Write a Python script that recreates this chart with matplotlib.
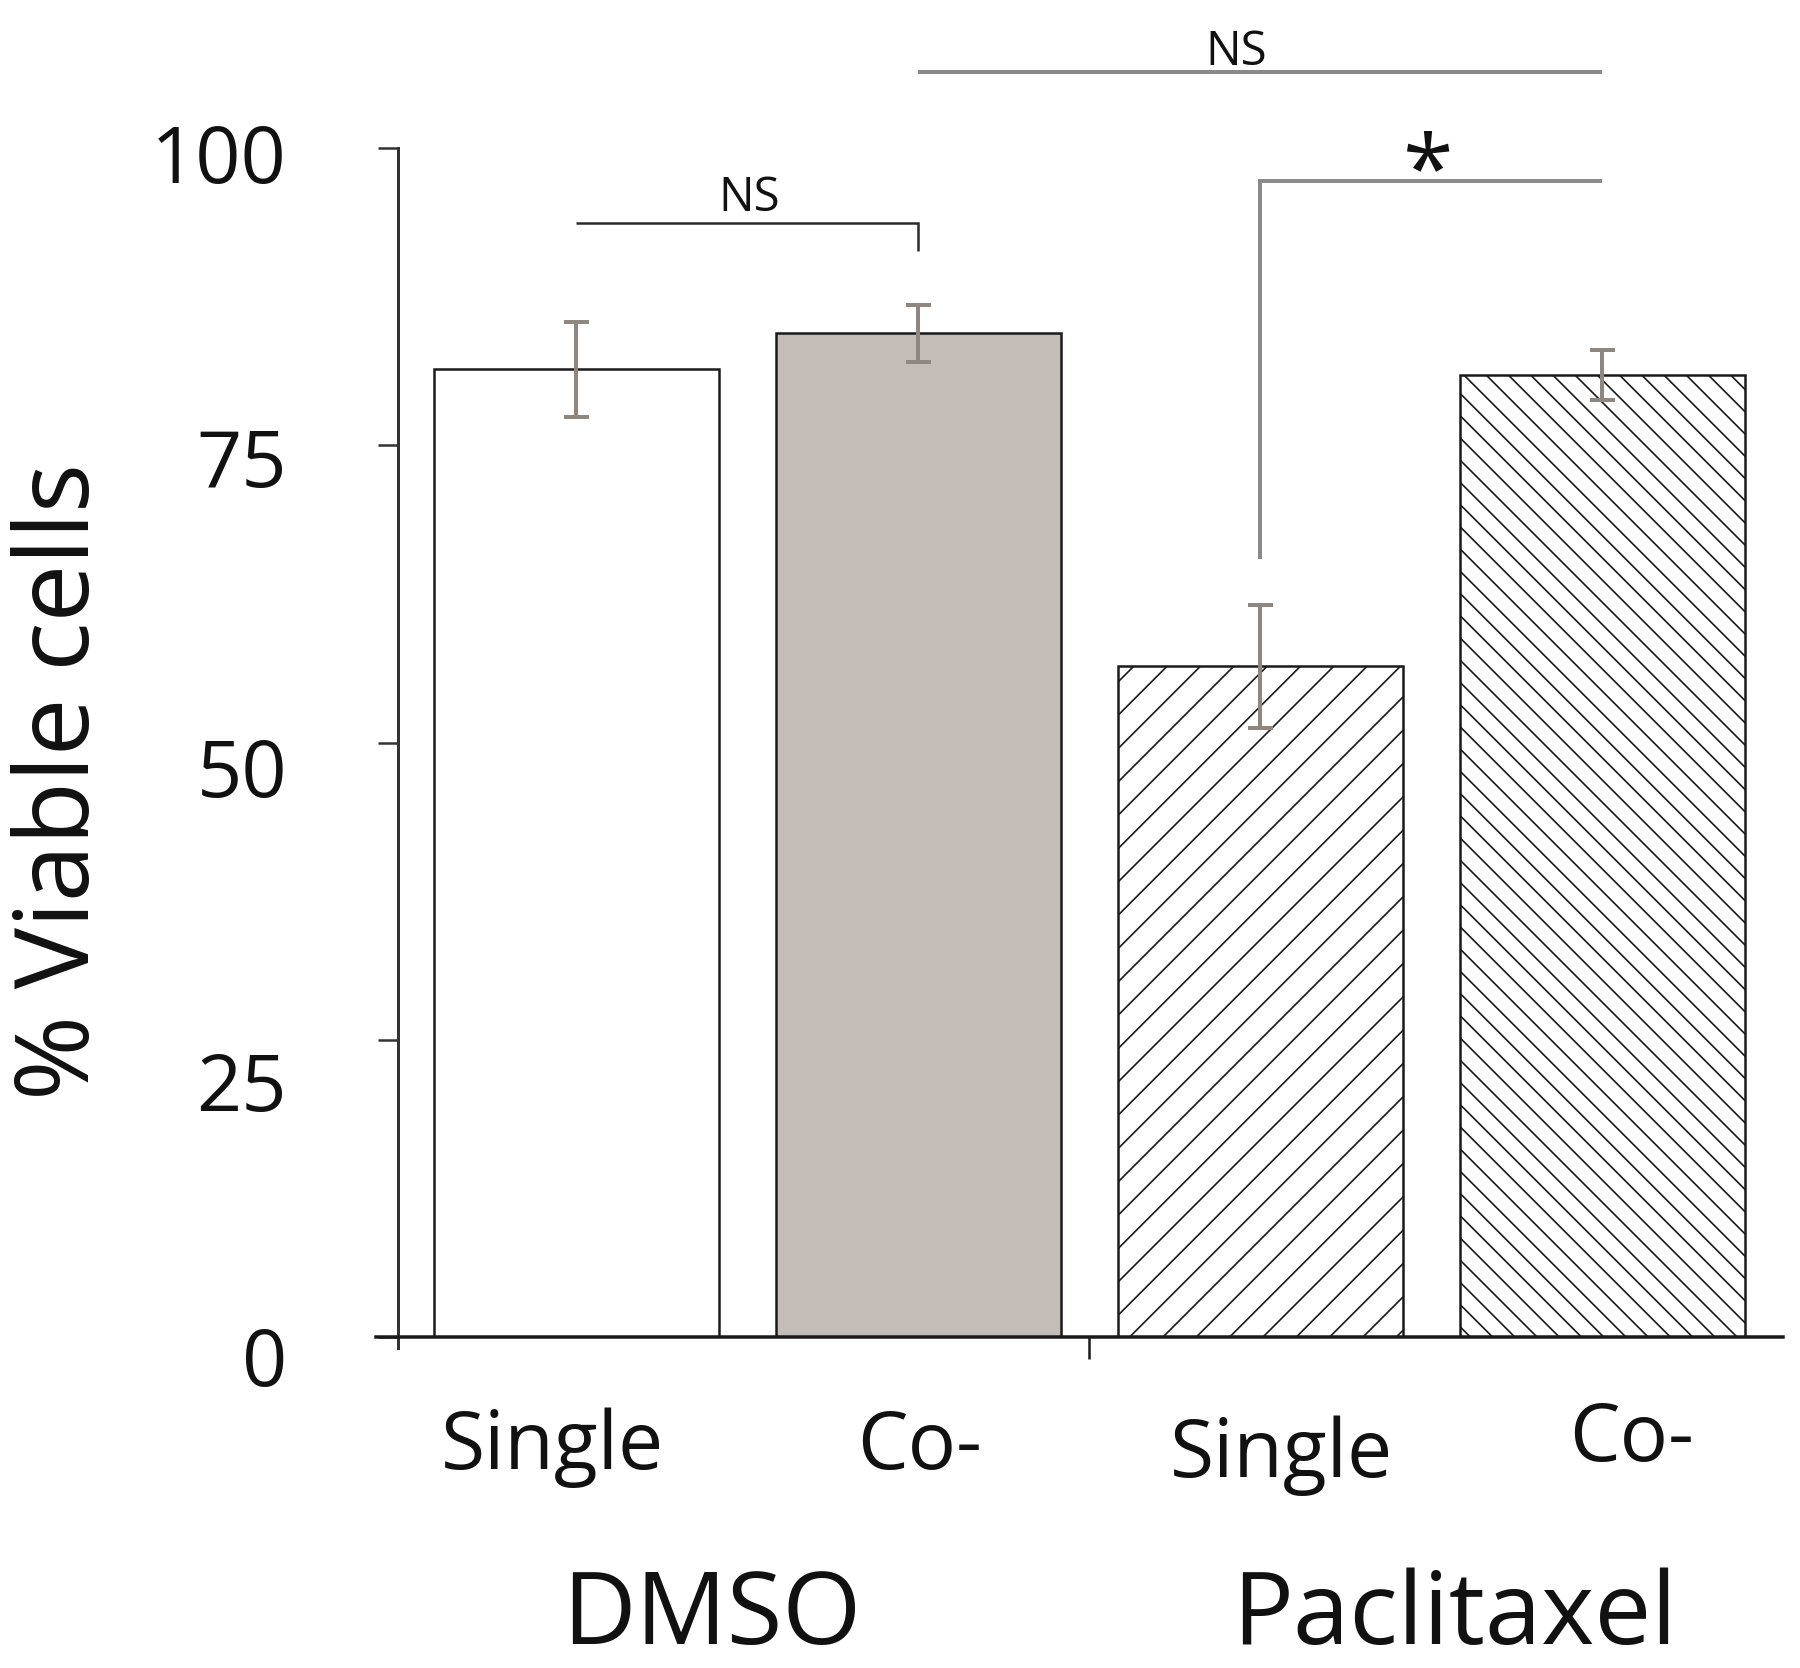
import matplotlib
matplotlib.use('Agg')
import matplotlib.pyplot as plt
import matplotlib.transforms as mtransforms

# ---------------- data ----------------
categories = ['Single', 'Co-', 'Single', 'Co-']
groups = ['DMSO', 'Paclitaxel']
values = [81.4, 84.4, 56.4, 80.9]
errors = [4.0, 2.4, 5.2, 2.1]
yticks = [0, 25, 50, 75, 100]
ylabel = '% Viable cells'
# significance brackets: (x1, x2, label)
brackets = [(0, 1, 'NS'), (1, 3, 'NS'), (2, 3, '*')]

# ---------------- styling ----------------
W, H, DPI = 1800, 1668, 200
plt.rcParams['font.family'] = ['Open Sans', 'DejaVu Sans']
plt.rcParams['hatch.linewidth'] = 0.6


def pt(p):
    """pixels -> points"""
    return p * 72.0 / DPI


fig = plt.figure(figsize=(W / DPI, H / DPI), dpi=DPI)
fig.patch.set_facecolor('white')

ax_l, ax_r, ax_b, ax_t = 376, 1783, 1337, 148
ax = fig.add_axes([ax_l / W, 1 - ax_b / H, (ax_r - ax_l) / W, (ax_b - ax_t) / H])

x = list(range(len(values)))
fills = ['white', '#c4bcb7', 'white', 'white']
hatches = [None, None, '//', '\\\\\\']

bars = ax.bar(x, values, width=0.833, color=fills, edgecolor='#1a1a1a',
              linewidth=pt(2.5), zorder=2)
for b, h in zip(bars, hatches):
    if h:
        b.set_hatch(h)

ax.errorbar(x, values, yerr=errors, fmt='none', ecolor='#8d8681',
            elinewidth=pt(4), capsize=pt(12.5), capthick=pt(4), zorder=3)

ax.set_xlim(-0.585, 3.529)
ax.set_ylim(0, 100)

for s in ['top', 'right']:
    ax.spines[s].set_visible(False)
ax.spines['left'].set_position(('axes', (398 - ax_l) / (ax_r - ax_l)))
ax.spines['left'].set_bounds(-0.9, 100)
ax.spines['left'].set_linewidth(pt(3))
ax.spines['left'].set_color('#333333')
ax.spines['bottom'].set_linewidth(pt(3.5))
ax.spines['bottom'].set_color('#1a1a1a')

# y ticks
ax.set_yticks(yticks)
ax.set_yticklabels([str(v) for v in yticks])
ax.tick_params(axis='y', direction='out', length=pt(20), width=pt(2.5),
               color='#333333', pad=pt(91), labelsize=28.5, labelcolor='#111111')
ydrop = [19, 41, 25, 12, 5]
for lab, d in zip(ax.get_yticklabels(), ydrop):
    lab.set_transform(lab.get_transform() +
                      mtransforms.ScaledTranslation(0, -d / DPI, fig.dpi_scale_trans))

# x ticks: separator major tick, category labels as minor ticks
ax.set_xticks([1.5])
ax.set_xticklabels([''])
ax.tick_params(axis='x', which='major', direction='out', length=pt(22),
               width=pt(2.5), color='#1a1a1a')
ax.set_xticks(x, categories, minor=True)
ax.tick_params(axis='x', which='minor', length=0, pad=pt(70), labelsize=29,
               labelcolor='#111111')
xshift = [(-24, 0), (1, 0), (21, -8), (29, 8)]
for lab, (dx, dy) in zip(ax.get_xticklabels(minor=True), xshift):
    lab.set_transform(lab.get_transform() +
                      mtransforms.ScaledTranslation(dx / DPI, dy / DPI, fig.dpi_scale_trans))

# group labels
group_px = [712, 1454]
for g, gx in zip(groups, group_px):
    fig.text(gx / W, 1 - 1644 / H, g, ha='center', va='baseline',
             fontsize=36.5, color='#111111')

# y label
fig.text(63 / W, 1 - 781 / H, ylabel, rotation=90, ha='center', va='center',
         fontsize=37, color='#111111')

# significance brackets
# (line y, drop-left bottom, drop-right bottom, color, lw, text x, text y, text size)
br_style = [
    (93.7, None, 91.3, '#2b2b2b', 2.5, 0.506, 94.7, 17),
    (106.4, None, None, '#8a8a8a', 4, 1.93, 107.0, 17),
    (97.2, 65.4, None, '#8a8a8a', 4, 2.49, 95.6, 33),
]
for (x1, x2, lab), (yl, dl, dr, c, lw, tx, ty, fs) in zip(brackets, br_style):
    xs = [x1, x2]
    ys = [yl, yl]
    if dl is not None:
        xs = [x1] + xs
        ys = [dl] + ys
    if dr is not None:
        xs = xs + [x2]
        ys = ys + [dr]
    ax.plot(xs, ys, color=c, lw=pt(lw), clip_on=False, solid_capstyle='butt',
            solid_joinstyle='miter', zorder=4)
    ax.text(tx, ty, lab, ha='center', va='baseline', fontsize=fs,
            color='#111111', clip_on=False)

fig.savefig('out.png', dpi=DPI, facecolor='white')
